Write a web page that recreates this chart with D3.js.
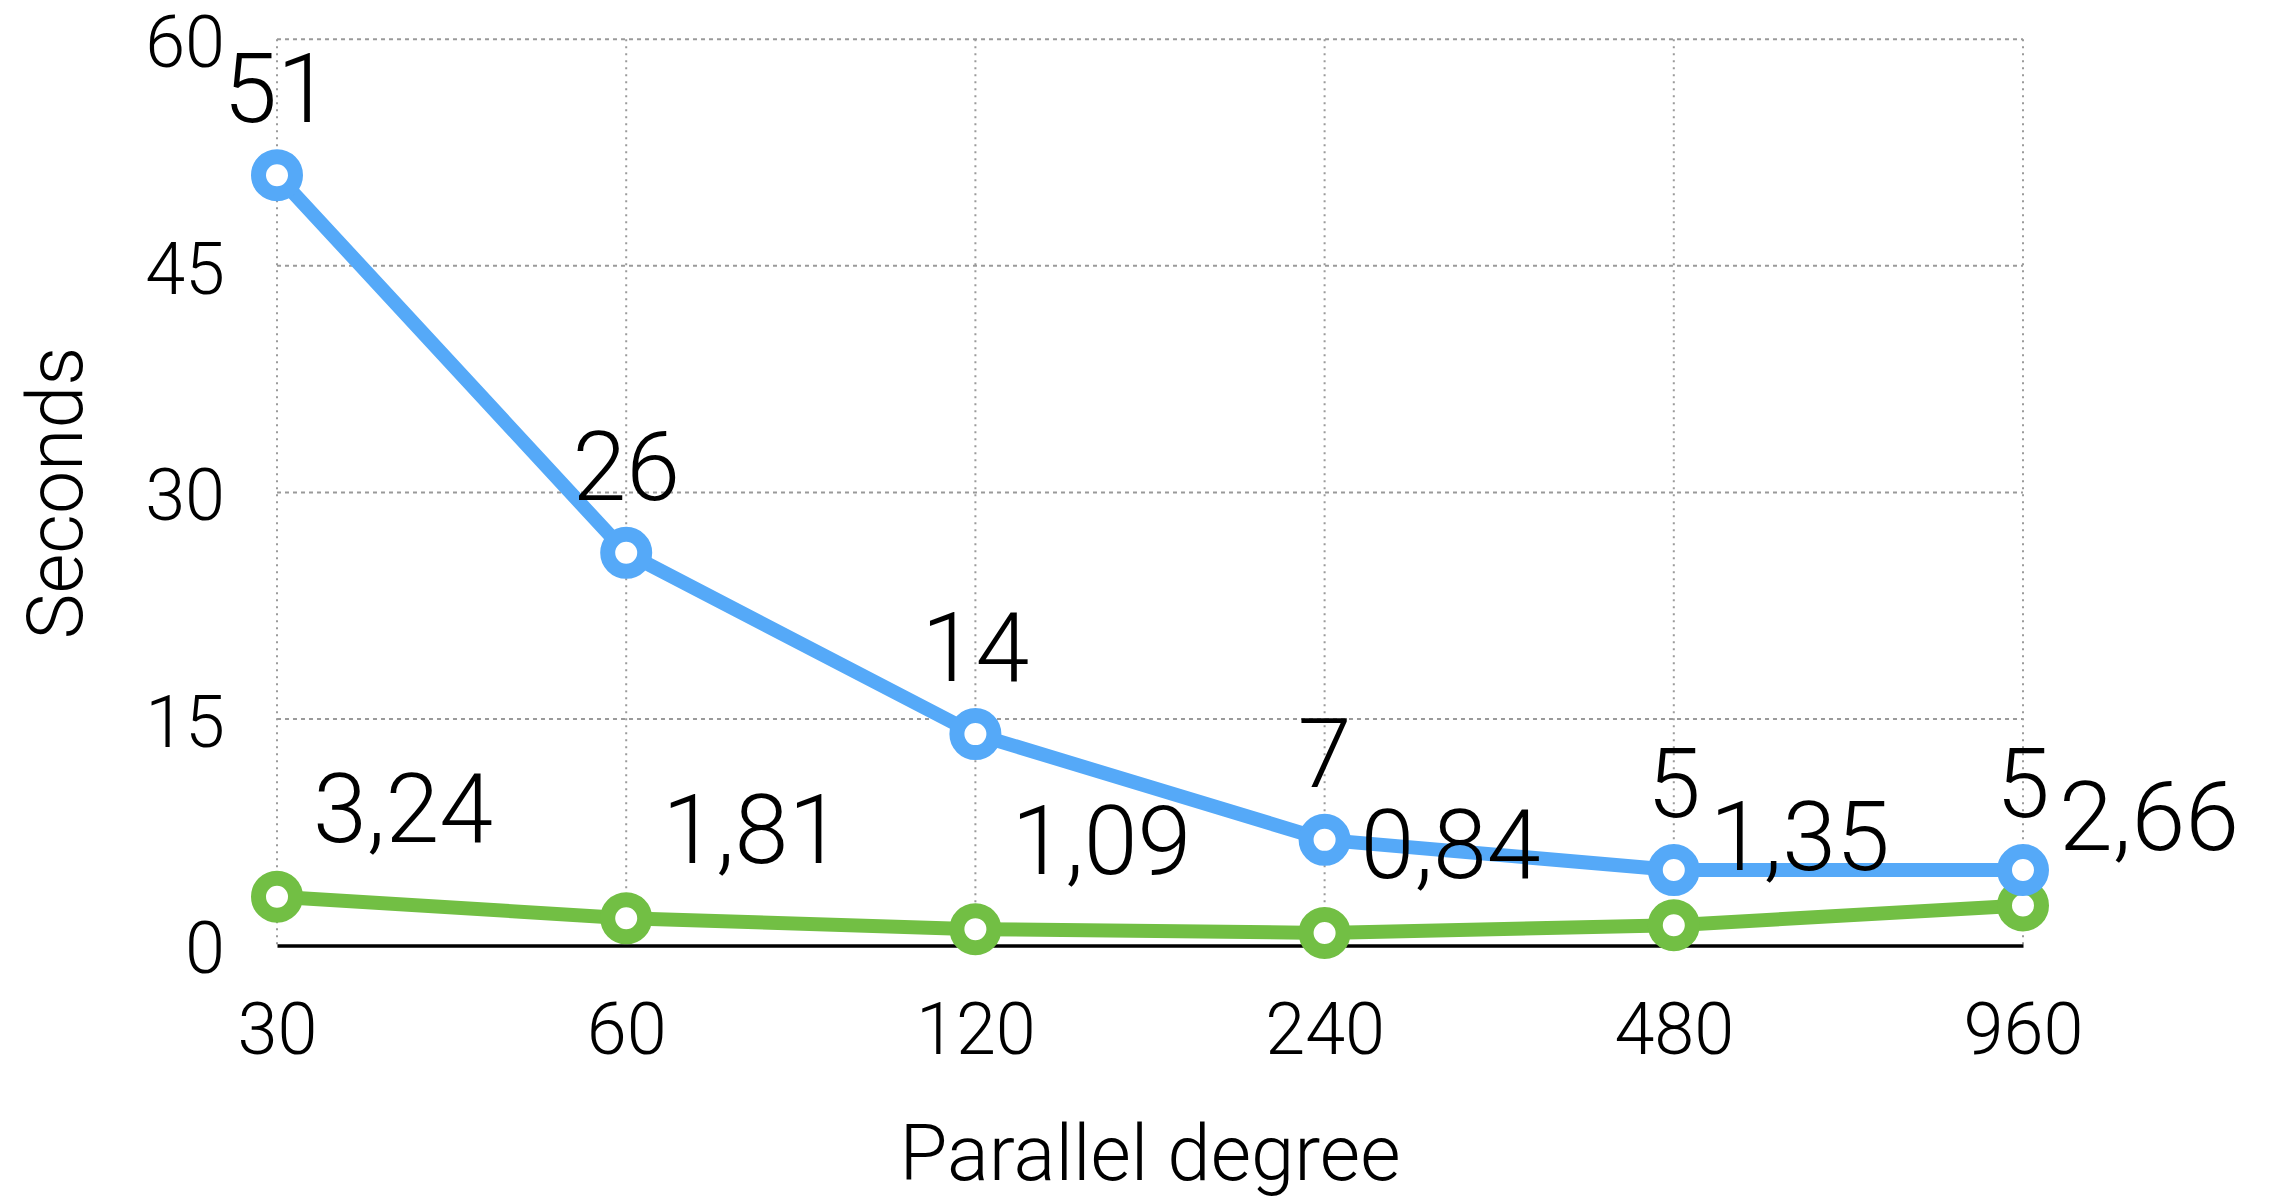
<!DOCTYPE html>
<html>
<head>
<meta charset="utf-8">
<script src="https://cdn.jsdelivr.net/npm/d3@7"></script>
<style>
  html, body { margin: 0; padding: 0; background: #fff; }
  svg { display: block; font-family: "Roboto", "Liberation Sans", sans-serif; font-weight: 300; }
</style>
</head>
<body>
<svg id="chart" width="2274" height="1200"></svg>
<script>
const categories = ["30", "60", "120", "240", "480", "960"];
const blueValues = [51, 26, 14, 7, 5, 5];
const greenValues = [3.24, 1.81, 1.09, 0.84, 1.35, 2.66];
const greenLabels = ["3,24", "1,81", "1,09", "0,84", "1,35", "2,66"];
const yTicks = [0, 15, 30, 45, 60];
const xTitle = "Parallel degree";
const yTitle = "Seconds";

(function () {
const svg = d3.select("#chart");
const mLeft = 277, mRight = 2023, mTop = 39.2, mBottom = 945.6;

const x = d3.scalePoint().domain(categories).range([mLeft, mRight]).padding(0);
const y = d3.scaleLinear().domain([0, 60]).range([mBottom, mTop]);

// horizontal grid
svg.append("g").selectAll("line").data(yTicks.filter(d => d > 0)).join("line")
  .attr("x1", mLeft).attr("x2", mRight)
  .attr("y1", d => y(d)).attr("y2", d => y(d))
  .attr("stroke", "#9a9a9a").attr("stroke-width", 2).attr("stroke-dasharray", "4,4");

// vertical grid
svg.append("g").selectAll("line").data(categories).join("line")
  .attr("x1", d => x(d)).attr("x2", d => x(d))
  .attr("y1", mTop).attr("y2", mBottom)
  .attr("stroke", "#9a9a9a").attr("stroke-width", 2).attr("stroke-dasharray", "2,5");

// x axis
const xAxis = svg.append("g").attr("transform", `translate(0,${mBottom})`)
  .call(d3.axisBottom(x).tickSize(0).tickPadding(0));
xAxis.select(".domain").attr("stroke", "#000").attr("stroke-width", 3.5);
xAxis.selectAll("text").attr("font-size", 72).attr("fill", "#000")
  .attr("font-family", "Roboto, 'Liberation Sans', sans-serif").attr("font-weight", 300)
  .attr("dy", null).attr("y", 108);

// y axis
const yAxis = svg.append("g").attr("transform", `translate(${mLeft},0)`)
  .call(d3.axisLeft(y).tickValues(yTicks).tickSize(0).tickPadding(52));
yAxis.select(".domain").remove();
yAxis.selectAll("text").attr("font-size", 72).attr("fill", "#000")
  .attr("font-family", "Roboto, 'Liberation Sans', sans-serif").attr("font-weight", 300)
  .attr("dy", "0.38em");

// titles
svg.append("text").attr("x", (mLeft + mRight) / 2).attr("y", 1180)
  .attr("text-anchor", "middle").attr("font-size", 78).text(xTitle);
svg.append("text").attr("transform", "translate(82,493) rotate(-90)")
  .attr("text-anchor", "middle").attr("font-size", 77).text(yTitle);

const line = d3.line().x((d, i) => x(categories[i])).y(d => y(d));

function drawSeries(values, color) {
  svg.append("path").datum(values).attr("d", line)
    .attr("fill", "none").attr("stroke", color).attr("stroke-width", 14)
    .attr("stroke-linejoin", "round");
  svg.append("g").selectAll("circle").data(values).join("circle")
    .attr("cx", (d, i) => x(categories[i])).attr("cy", d => y(d))
    .attr("r", 18.5).attr("fill", "#fff").attr("stroke", color).attr("stroke-width", 15);
}
drawSeries(greenValues, "#72bf44");
drawSeries(blueValues, "#55a9f8");

// labels
svg.append("g").selectAll("text").data(blueValues).join("text")
  .attr("x", (d, i) => x(categories[i])).attr("y", d => y(d) - 53)
  .attr("text-anchor", "middle").attr("font-size", 97).attr("fill", "#000")
  .text(d => d);
svg.append("g").selectAll("text").data(greenValues).join("text")
  .attr("x", (d, i) => x(categories[i]) + 36).attr("y", d => y(d) - 55)
  .attr("text-anchor", "start").attr("font-size", 97).attr("fill", "#000")
  .text((d, i) => greenLabels[i]);
})();
</script>
</body>
</html>
